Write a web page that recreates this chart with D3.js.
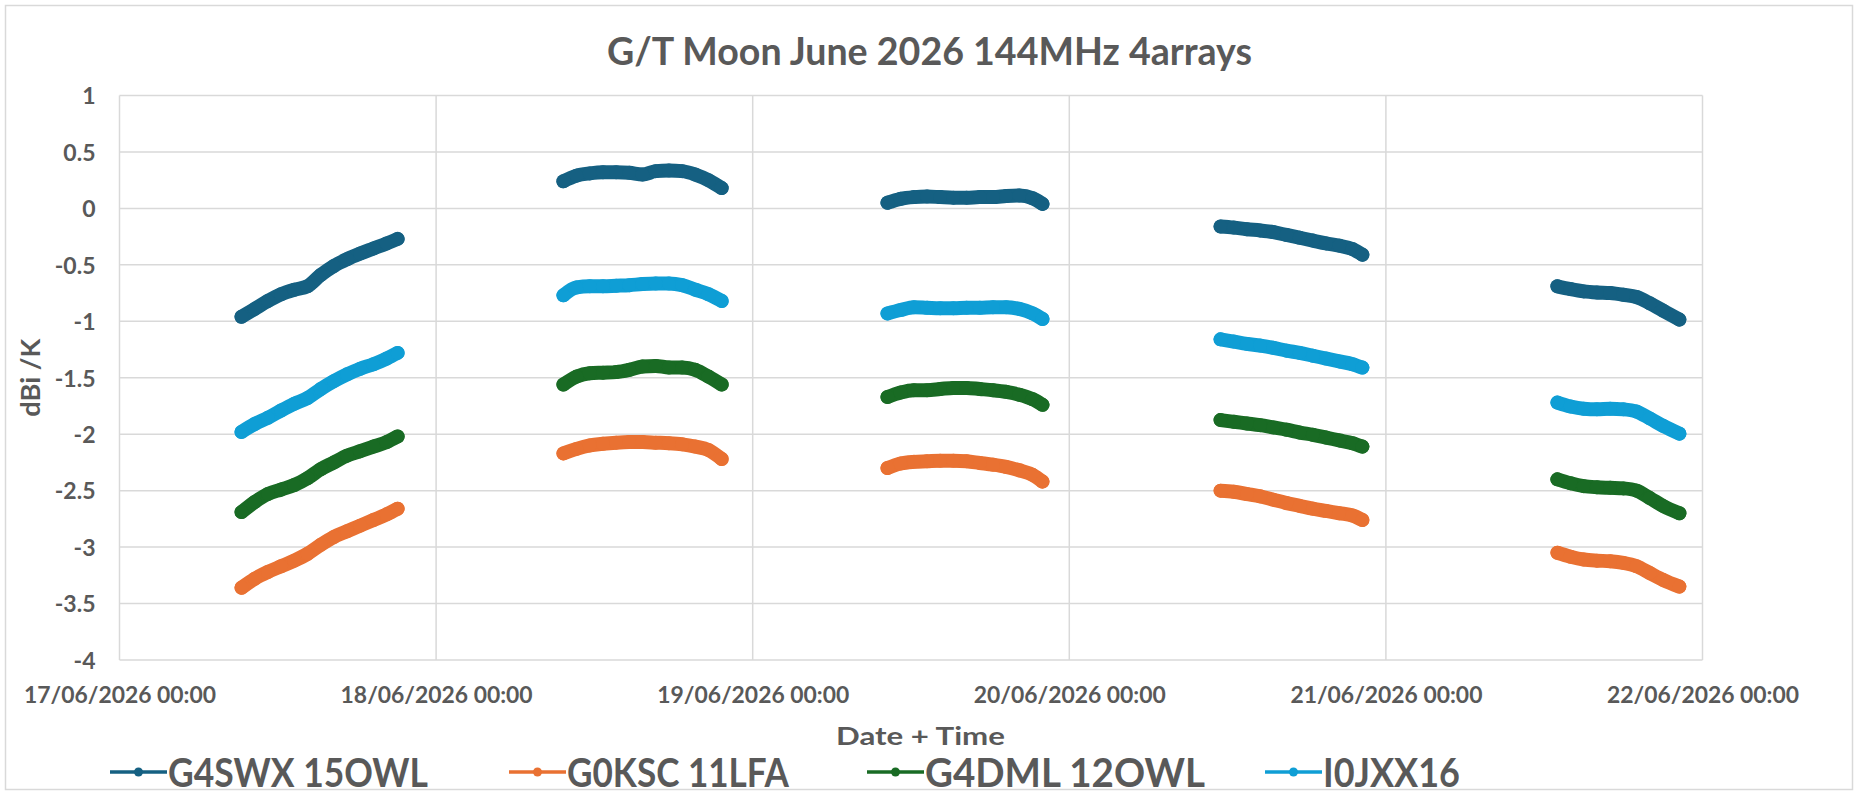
<!DOCTYPE html>
<html>
<head>
<meta charset="utf-8">
<script src="https://cdn.jsdelivr.net/npm/d3@7"></script>
<style>
  body { margin: 0; background: #fff; }
  svg { display: block; }
  text { font-family: Lato, "Open Sans", "Noto Sans", sans-serif; fill: #595959; }
</style>
</head>
<body>
<svg id="chart" width="1858" height="795"></svg>
<script>
// ---------------- DATA ----------------
const chartTitle = "G/T Moon June 2026 144MHz 4arrays";
const xAxisTitle = "Date + Time";
const yAxisTitle = "dBi /K";

const seriesNames = ["G4SWX 15OWL", "G0KSC 11LFA", "G4DML 12OWL", "I0JXX16"];

const xTickLabels = ["17/06/2026 00:00", "18/06/2026 00:00", "19/06/2026 00:00",
                     "20/06/2026 00:00", "21/06/2026 00:00", "22/06/2026 00:00"];
const yTickValues = [-4, -3.5, -3, -2.5, -2, -1.5, -1, -0.5, 0, 0.5, 1];
const yTickLabels = ["-4", "-3.5", "-3", "-2.5", "-2", "-1.5", "-1", "-0.5", "0", "0.5", "1"];

const times = [
  // 17/06
  "17/06/2026 09:15","17/06/2026 10:15","17/06/2026 11:15","17/06/2026 12:15","17/06/2026 13:15",
  "17/06/2026 14:15","17/06/2026 15:15","17/06/2026 16:15","17/06/2026 17:15","17/06/2026 18:15",
  "17/06/2026 19:15","17/06/2026 20:15","17/06/2026 21:05",
  // 18/06
  "18/06/2026 09:39","18/06/2026 10:39","18/06/2026 11:39","18/06/2026 12:39","18/06/2026 13:39",
  "18/06/2026 14:39","18/06/2026 15:39","18/06/2026 16:39","18/06/2026 17:39","18/06/2026 18:39",
  "18/06/2026 19:39","18/06/2026 20:39","18/06/2026 21:39",
  // 19/06
  "19/06/2026 10:13","19/06/2026 11:13","19/06/2026 12:13","19/06/2026 13:13","19/06/2026 14:13",
  "19/06/2026 15:13","19/06/2026 16:13","19/06/2026 17:13","19/06/2026 18:13","19/06/2026 19:13",
  "19/06/2026 20:13","19/06/2026 21:13","19/06/2026 21:58",
  // 20/06
  "20/06/2026 11:28","20/06/2026 12:28","20/06/2026 13:28","20/06/2026 14:28","20/06/2026 15:28",
  "20/06/2026 16:28","20/06/2026 17:28","20/06/2026 18:28","20/06/2026 19:28","20/06/2026 20:28",
  "20/06/2026 21:28","20/06/2026 22:13",
  // 21/06
  "21/06/2026 13:00","21/06/2026 14:00","21/06/2026 15:00","21/06/2026 16:00","21/06/2026 17:00",
  "21/06/2026 18:00","21/06/2026 19:00","21/06/2026 20:00","21/06/2026 21:00","21/06/2026 22:15"
];

const g4swx = [
  -0.96,-0.89,-0.82,-0.76,-0.72,-0.69,-0.59,-0.51,-0.45,-0.40,-0.355,-0.31,-0.27,
  0.24,0.29,0.31,0.32,0.32,0.315,0.30,0.33,0.335,0.33,0.30,0.25,0.18,
  0.05,0.085,0.10,0.105,0.10,0.095,0.095,0.10,0.10,0.11,0.115,0.09,0.04,
  -0.16,-0.17,-0.185,-0.195,-0.21,-0.235,-0.26,-0.285,-0.31,-0.33,-0.36,-0.41,
  -0.69,-0.715,-0.735,-0.745,-0.75,-0.765,-0.785,-0.84,-0.905,-0.985
];
const g0ksc = [
  -3.36,-3.28,-3.22,-3.17,-3.12,-3.06,-2.98,-2.91,-2.86,-2.81,-2.76,-2.71,-2.66,
  -2.17,-2.13,-2.10,-2.085,-2.075,-2.07,-2.07,-2.075,-2.08,-2.09,-2.11,-2.14,-2.22,
  -2.30,-2.26,-2.245,-2.24,-2.235,-2.235,-2.24,-2.255,-2.27,-2.29,-2.32,-2.36,-2.42,
  -2.50,-2.51,-2.53,-2.55,-2.58,-2.61,-2.635,-2.66,-2.68,-2.70,-2.72,-2.76,
  -3.05,-3.085,-3.11,-3.12,-3.125,-3.14,-3.17,-3.23,-3.29,-3.35
];
const g4dml = [
  -2.69,-2.60,-2.53,-2.49,-2.45,-2.39,-2.31,-2.25,-2.19,-2.15,-2.11,-2.07,-2.02,
  -1.56,-1.49,-1.46,-1.455,-1.45,-1.43,-1.40,-1.395,-1.41,-1.41,-1.43,-1.49,-1.56,
  -1.67,-1.63,-1.61,-1.61,-1.60,-1.59,-1.59,-1.60,-1.61,-1.625,-1.65,-1.69,-1.74,
  -1.875,-1.89,-1.905,-1.92,-1.94,-1.96,-1.985,-2.005,-2.03,-2.055,-2.08,-2.11,
  -2.40,-2.435,-2.46,-2.47,-2.475,-2.48,-2.50,-2.565,-2.635,-2.70
];
const i0jxx16 = [
  -1.98,-1.91,-1.855,-1.79,-1.73,-1.68,-1.60,-1.53,-1.47,-1.42,-1.38,-1.33,-1.28,
  -0.77,-0.70,-0.69,-0.69,-0.685,-0.68,-0.67,-0.665,-0.665,-0.68,-0.72,-0.76,-0.82,
  -0.93,-0.90,-0.875,-0.88,-0.885,-0.885,-0.88,-0.88,-0.875,-0.875,-0.89,-0.93,-0.98,
  -1.16,-1.18,-1.20,-1.215,-1.235,-1.26,-1.28,-1.305,-1.33,-1.355,-1.38,-1.41,
  -1.72,-1.755,-1.775,-1.78,-1.775,-1.78,-1.80,-1.86,-1.925,-1.995
];

// ---------------- RENDER ----------------
const seriesValues = [g4swx, g0ksc, g4dml, i0jxx16];
const seriesColors = ["#156082", "#E97132", "#196B24", "#0F9ED5"];

const W = 1858, H = 795;
const plot = { left: 119.5, right: 1702.5, top: 95.5, bottom: 660 };

const parse = d3.utcParse("%d/%m/%Y %H:%M");
const tickDates = xTickLabels.map(parse);

const svg = d3.select("#chart");

svg.append("rect").attr("x", 0).attr("y", 0).attr("width", W).attr("height", H).attr("fill", "#fff");
svg.append("rect").attr("x", 5.5).attr("y", 5.5).attr("width", W - 11).attr("height", H - 11)
   .attr("fill", "none").attr("stroke", "#d9d9d9").attr("stroke-width", 1.5);

const x = d3.scaleUtc().domain([tickDates[0], tickDates[tickDates.length - 1]])
  .range([plot.left, plot.right]);
const y = d3.scaleLinear().domain([d3.min(yTickValues), d3.max(yTickValues)])
  .range([plot.bottom, plot.top]);

// gridlines
const grid = svg.append("g").attr("stroke", "#d9d9d9").attr("stroke-width", 1.5);
grid.selectAll("line.h").data(yTickValues).join("line")
  .attr("x1", plot.left).attr("x2", plot.right)
  .attr("y1", d => y(d)).attr("y2", d => y(d));
grid.selectAll("line.v").data(tickDates).join("line")
  .attr("y1", plot.top).attr("y2", plot.bottom)
  .attr("x1", d => x(d)).attr("x2", d => x(d));

// x axis labels
const xAxis = d3.axisBottom(x).tickValues(tickDates)
  .tickFormat((d, i) => xTickLabels[i]).tickSize(0);
const gx = svg.append("g").attr("transform", `translate(0,${plot.bottom})`).call(xAxis);
gx.select(".domain").remove();
gx.selectAll("text")
  .attr("y", 43).attr("dy", null)
  .attr("font-size", 23).attr("font-weight", 700)
  .attr("fill", "#595959").attr("font-family", "Lato")
  .attr("textLength", 192).attr("lengthAdjust", "spacingAndGlyphs");

// y axis labels
const yAxis = d3.axisLeft(y).tickValues(yTickValues)
  .tickFormat((d, i) => yTickLabels[i]).tickSize(0);
const gy = svg.append("g").attr("transform", `translate(${plot.left},0)`).call(yAxis);
gy.select(".domain").remove();
gy.selectAll("text")
  .attr("x", -24).attr("dy", "0.36em")
  .attr("font-size", 23).attr("font-weight", 700)
  .attr("fill", "#595959").attr("font-family", "Lato");

// series
const rows = times.map(parse);
const line = d3.line().x(d => x(d.t)).y(d => y(d.v)).curve(d3.curveMonotoneX);

seriesValues.forEach((vals, si) => {
  const pts = rows.map((t, i) => ({ t, v: vals[i] }));
  const segs = [];
  pts.forEach((p, i) => {
    if (i === 0 || (p.t - pts[i - 1].t) > 6 * 3600 * 1000) segs.push([]);
    segs[segs.length - 1].push(p);
  });
  const g = svg.append("g");
  g.selectAll("path").data(segs).join("path")
    .attr("d", line)
    .attr("fill", "none")
    .attr("stroke", seriesColors[si])
    .attr("stroke-width", 14)
    .attr("stroke-linecap", "round")
    .attr("stroke-linejoin", "round");
  g.selectAll("circle").data(pts).join("circle")
    .attr("cx", d => x(d.t)).attr("cy", d => y(d.v)).attr("r", 7)
    .attr("fill", seriesColors[si]);
});

// titles
svg.append("text").text(chartTitle)
  .attr("x", 929.5).attr("y", 65).attr("text-anchor", "middle")
  .attr("font-size", 37.5).attr("font-weight", 700)
  .attr("textLength", 645).attr("lengthAdjust", "spacingAndGlyphs");

svg.append("text").text(xAxisTitle)
  .attr("x", 920.5).attr("y", 745).attr("text-anchor", "middle")
  .attr("font-size", 25).attr("font-weight", 700)
  .attr("textLength", 169).attr("lengthAdjust", "spacingAndGlyphs");

svg.append("text").text(yAxisTitle)
  .attr("transform", `translate(40,${(plot.top + plot.bottom) / 2}) rotate(-90)`)
  .attr("text-anchor", "middle")
  .attr("font-size", 27).attr("font-weight", 700)
  .attr("textLength", 78).attr("lengthAdjust", "spacingAndGlyphs");

// legend
const legendX = [110, 509, 867, 1265];
const legendTextW = [260, 222, 280, 137];
const legendY = 772;
const lg = svg.append("g");
seriesNames.forEach((name, i) => {
  const x0 = legendX[i];
  lg.append("line").attr("x1", x0).attr("x2", x0 + 57)
    .attr("y1", legendY).attr("y2", legendY)
    .attr("stroke", seriesColors[i]).attr("stroke-width", 3.5);
  lg.append("circle").attr("cx", x0 + 28.5).attr("cy", legendY).attr("r", 4.5)
    .attr("fill", seriesColors[i]);
  lg.append("text").text(name)
    .attr("x", x0 + 58).attr("y", 787)
    .attr("font-size", 39.5).attr("font-weight", 700)
    .attr("textLength", legendTextW[i]).attr("lengthAdjust", "spacingAndGlyphs");
});
</script>
</body>
</html>
